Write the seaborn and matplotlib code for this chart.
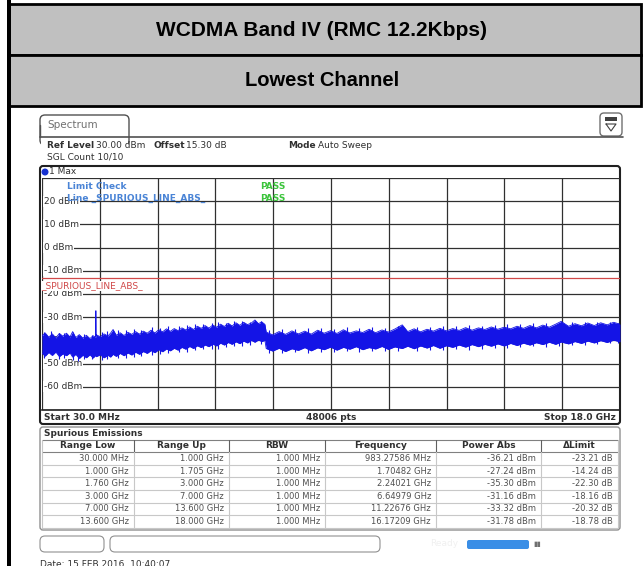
import numpy as np
import pandas as pd
import matplotlib.pyplot as plt
from matplotlib.patches import Rectangle, FancyBboxPatch
import seaborn as sns

W, H = 644, 566

# max-hold trace: upper / lower edge of the noise band
# 30 MHz .. 1.7 GHz
seg_a_freq = [0.03, 0.13, 0.24, 0.35, 0.46, 0.57, 0.68, 0.79, 0.90, 0.983, 1.08, 1.19,
              1.30, 1.41, 1.52, 1.62, 1.69, 1.700, 1.705, 1.710]
seg_a_upper = [-38, -36.8, -38.6, -37.2, -38.9, -37, -38.2, -36.9, -38.5, -36.2, -38.8,
               -37.5, -39, -37.8, -39.2, -38, -38.6, -38.6, -27.2, -38]
seg_a_lower = [-45.5, -46.8, -45.2, -46.5, -45, -47, -45.8, -46.6, -45.4, -47.2, -46,
               -47.8, -46.4, -47.5, -46.2, -47.6, -46.5, -46.5, -46.5, -47]
# 1.7 GHz .. 7 GHz
seg_b_freq = [1.72, 1.84, 1.96, 2.08, 2.16, 2.24, 2.34, 2.46, 2.58, 2.70, 2.82, 2.94,
              3.06, 3.18, 3.30, 3.42, 3.54, 3.66, 3.78, 3.90, 4.02, 4.14, 4.26, 4.38,
              4.50, 4.62, 4.74, 4.86, 4.98, 5.10, 5.22, 5.34, 5.46, 5.58, 5.70, 5.82,
              5.94, 6.06, 6.18, 6.30, 6.42, 6.54, 6.65, 6.76, 6.86, 6.96]
seg_b_upper = [-37.6, -38.4, -37.2, -38.1, -36.9, -35.3, -37.8, -36.7, -37.9, -36.5,
               -37.4, -36.2, -37.3, -36.0, -36.9, -35.6, -36.8, -35.4, -36.3, -35.0,
               -36.1, -34.9, -35.8, -34.6, -35.5, -34.2, -35.3, -33.9, -34.8, -33.6,
               -34.7, -33.4, -34.3, -33.0, -34.0, -32.6, -33.8, -32.4, -33.5, -32.2,
               -33.2, -32.5, -31.2, -32.8, -32.0, -33.1]
seg_b_lower = [-47.0, -46.2, -47.5, -46.4, -47.2, -46.0, -46.9, -45.6, -46.6, -45.4,
               -46.3, -45.1, -46.0, -44.8, -45.6, -44.4, -45.3, -44.0, -44.9, -43.7,
               -44.5, -43.4, -44.2, -43.0, -43.8, -42.6, -43.5, -42.3, -43.1, -42.0,
               -42.7, -41.6, -42.4, -41.2, -42.0, -40.9, -41.7, -40.6, -41.4, -40.3,
               -41.1, -40.0, -40.8, -39.8, -40.5, -40.0]
# 7 GHz .. 18 GHz
seg_c_freq = [7.0, 7.2, 7.4, 7.6, 7.8, 8.0, 8.2, 8.4, 8.6, 8.8, 9.0, 9.2, 9.4, 9.6, 9.8,
              10.0, 10.2, 10.4, 10.6, 10.8, 11.0, 11.23, 11.4, 11.6, 11.8, 12.0, 12.2,
              12.4, 12.6, 12.8, 13.0, 13.2, 13.4, 13.6, 13.8, 14.0, 14.2, 14.4, 14.6,
              14.8, 15.0, 15.2, 15.4, 15.6, 15.8, 16.0, 16.17, 16.4, 16.6, 16.8, 17.0,
              17.2, 17.4, 17.6, 17.8, 18.0]
seg_c_upper = [-36.4, -37.6, -36.2, -37.4, -35.9, -37.2, -36.0, -37.3, -35.6, -36.9,
               -35.8, -37.0, -35.4, -36.8, -35.9, -36.6, -35.2, -36.7, -35.5, -36.4,
               -35.1, -33.3, -36.2, -35.0, -36.3, -35.2, -36.0, -34.8, -35.9, -34.9,
               -35.7, -34.5, -35.6, -34.6, -35.3, -34.2, -35.2, -34.3, -35.0, -33.9,
               -34.8, -33.6, -34.6, -33.4, -34.3, -33.0, -31.8, -33.9, -32.8, -33.7,
               -32.5, -33.6, -32.4, -33.3, -32.2, -33.0]
seg_c_lower = [-43.5, -44.6, -43.4, -44.8, -43.6, -44.3, -43.1, -44.5, -43.2, -44.0,
               -42.9, -44.2, -43.0, -43.8, -42.7, -44.0, -43.1, -43.7, -42.6, -43.9,
               -42.8, -43.5, -42.5, -43.6, -42.4, -43.3, -42.2, -43.4, -42.3, -43.0,
               -42.0, -42.9, -41.8, -42.7, -41.7, -42.5, -41.5, -42.4, -41.3, -42.2,
               -41.2, -42.0, -41.0, -41.8, -40.8, -41.7, -40.7, -41.5, -40.5, -41.3,
               -40.3, -41.1, -40.1, -40.9, -39.9, -40.6]

# single hairline excursions of the trace (freq, top, bottom)
stroke_freq = [0.08, 0.30, 0.55, 0.72, 1.00, 1.15, 1.35, 1.58,
               1.90, 2.05, 2.40, 2.65, 2.90, 3.10, 3.45, 3.70, 3.95, 4.30, 4.55, 4.80,
               5.05, 5.30, 5.50, 5.75, 6.00, 6.25, 6.50, 6.85,
               7.10, 7.50, 7.90, 8.30, 8.70, 9.10, 9.50, 9.90, 10.30, 10.70, 11.10,
               11.70, 12.10, 12.50, 12.90, 13.30, 13.70, 14.10, 14.50, 14.90, 15.30,
               15.70, 16.10, 16.50, 16.90, 17.30, 17.70, 17.95]
stroke_top = [-36.5, -35.8, -36.8, -37.0, -36.8, -37.6, -37.2, -37.8,
              -36.5, -35.8, -35.5, -35.4, -35.1, -35.6, -34.3, -34.5, -33.9, -33.8,
              -33.5, -32.8, -33.0, -32.6, -32.0, -32.3, -31.6, -31.8, -31.9, -31.5,
              -35.4, -35.0, -35.3, -34.8, -34.5, -35.0, -34.3, -34.8, -34.2, -34.6,
              -34.0, -34.4, -34.1, -33.8, -34.0, -33.4, -33.6, -33.2, -33.0, -32.8,
              -32.6, -32.3, -32.5, -32.2, -32.1, -31.9, -32.0, -32.3]
stroke_bottom = [-47.5, -46.0, -48.0, -47.8, -48.5, -48.9, -48.2, -47.9,
                 -48.5, -48.0, -47.4, -47.5, -47.0, -46.8, -46.2, -45.8, -45.3, -44.8,
                 -45.1, -44.3, -43.9, -43.5, -43.6, -42.8, -42.5, -42.6, -41.8, -41.7,
                 -45.3, -45.6, -45.0, -45.5, -44.8, -45.0, -44.7, -45.2, -44.6, -44.5,
                 -44.4, -44.6, -44.2, -44.3, -43.8, -44.0, -43.5, -43.4, -43.2, -43.0,
                 -42.6, -42.8, -42.3, -42.1, -41.8, -41.6, -41.2, -41.0]

limit_dbm = -13.0
level_labels = [20, 10, 0, -10, -20, -30, -40, -50, -60]

# spurious emissions table
col_heads = ["Range Low", "Range Up", "RBW", "Frequency", "Power Abs", "\u0394Limit"]
range_low = ["30.000 MHz", "1.000 GHz", "1.760 GHz", "3.000 GHz", "7.000 GHz", "13.600 GHz"]
range_up = ["1.000 GHz", "1.705 GHz", "3.000 GHz", "7.000 GHz", "13.600 GHz", "18.000 GHz"]
rbw = ["1.000 MHz"] * 6
peak_freq = ["983.27586 MHz", "1.70482 GHz", "2.24021 GHz", "6.64979 GHz",
             "11.22676 GHz", "16.17209 GHz"]
power_abs = [-36.21, -27.24, -35.30, -31.16, -33.32, -31.78]
delta_limit = [-23.21, -14.24, -22.30, -18.16, -20.32, -18.78]

sns.set_style("white")
plt.rcParams["font.family"] = ["DejaVu Sans"]

fig = plt.figure(figsize=(W / 100, H / 100), dpi=100)
bg = fig.add_axes([0, 0, 1, 1])
bg.set_xlim(0, W)
bg.set_ylim(H, 0)
bg.axis("off")

# title block
bg.add_patch(Rectangle((9, 4), 632, 51, fc="#C0C0C0", ec="black", lw=2))
bg.text(322, 30, "WCDMA Band IV (RMC 12.2Kbps)", ha="center", va="center",
        fontsize=15, fontweight="bold", family="Liberation Sans", color="black")
bg.add_patch(Rectangle((9, 55), 632, 51, fc="#C0C0C0", ec="black", lw=2))
bg.text(322, 81, "Lowest Channel", ha="center", va="center", fontsize=14.5,
        fontweight="bold", family="Liberation Sans", color="black")
bg.add_patch(Rectangle((7, 0), 4, H, fc="black", ec="none", zorder=5))

# instrument header
bg.add_patch(FancyBboxPatch((40, 115), 89, 30, boxstyle="round,pad=0,rounding_size=5",
                            fc="white", ec="#505050", lw=1))
bg.add_patch(Rectangle((41, 136), 87, 10, fc="white", ec="none"))
bg.plot([40, 40], [125, 137], color="#505050", lw=1)
bg.plot([40, 623], [137, 137], color="#505050", lw=1.2)
bg.text(47, 125, "Spectrum", fontsize=7.5, color="#707070", va="center")
bg.add_patch(FancyBboxPatch((600, 113), 22, 23, boxstyle="round,pad=0,rounding_size=4",
                            fc="white", ec="#707070", lw=1))
bg.add_patch(Rectangle((605, 117), 12, 4, fc="#404040", ec="none"))
bg.plot([606, 611, 616, 606], [124, 131, 124, 124], color="#404040", lw=0.8)

hdr = dict(fontsize=6.5, color="#303030", va="center")
bg.text(47, 146, "Ref Level", fontweight="bold", **hdr)
bg.text(96, 146, "30.00 dBm", **hdr)
bg.text(154, 146, "Offset", fontweight="bold", **hdr)
bg.text(186, 146, "15.30 dB", **hdr)
bg.text(288, 146, "Mode", fontweight="bold", **hdr)
bg.text(318, 146, "Auto Sweep", **hdr)
bg.text(47, 157, "SGL Count 10/10", **hdr)

# diagram frame
bg.add_patch(FancyBboxPatch((40, 166), 580, 258, boxstyle="round,pad=0,rounding_size=3",
                            fc="white", ec="#202020", lw=1.5))
bg.add_patch(plt.Circle((45, 172), 2.8, color="#1530D0"))
bg.text(49, 172, "1 Max", **hdr)
bg.text(44, 418, "Start 30.0 MHz", fontweight="bold", **hdr)
bg.text(331, 418, "48006 pts", fontweight="bold", ha="center", fontsize=6.5,
        color="#303030", va="center")
bg.text(616, 418, "Stop 18.0 GHz", fontweight="bold", ha="right", fontsize=6.5,
        color="#303030", va="center")

# spurious table
bg.add_patch(FancyBboxPatch((40, 427), 580, 103, boxstyle="round,pad=0,rounding_size=3",
                            fc="white", ec="#909090", lw=1))
bg.text(44, 433, "Spurious Emissions", fontweight="bold", **hdr)
seps = [42, 134, 229, 325, 436, 541, 618]
bg.plot([42, 618], [440, 440], color="#808080", lw=0.8)
bg.plot([42, 618], [452, 452], color="#808080", lw=0.8)
for i, head in enumerate(col_heads):
    bg.text((seps[i] + seps[i + 1]) / 2, 446, head, ha="center", fontweight="bold",
            fontsize=6.5, color="#303030", va="center")
for xs in seps[1:-1]:
    bg.plot([xs, xs], [440, 452], color="#606060", lw=0.8)
    bg.plot([xs, xs], [452, 528], color="#c8c8c8", lw=0.8)
bg.plot([42, 42], [440, 528], color="#c8c8c8", lw=0.8)
bg.plot([618, 618], [440, 528], color="#c8c8c8", lw=0.8)
rows = zip(range_low, range_up, rbw, peak_freq, power_abs, delta_limit)
for r, (lo, up, bw, fq, pw, dl) in enumerate(rows):
    yc = 458.5 + r * 12.6
    cells = [lo, up, bw, fq, f"{pw:.2f} dBm", f"{dl:.2f} dB"]
    for i, c in enumerate(cells):
        bg.text(seps[i + 1] - 5, yc, c, ha="right", fontsize=6, color="#505050", va="center")
    bg.plot([42, 618], [yc + 6.3, yc + 6.3], color="#c8c8c8", lw=0.8)

# status bar
bg.add_patch(FancyBboxPatch((40, 536), 64, 16, boxstyle="round,pad=0,rounding_size=5",
                            fc="white", ec="#909090", lw=0.8))
bg.add_patch(FancyBboxPatch((110, 536), 270, 16, boxstyle="round,pad=0,rounding_size=5",
                            fc="white", ec="#909090", lw=0.8))
bg.text(430, 544, "Ready", color="#f0f0f0", fontsize=6.5, va="center")
bg.add_patch(FancyBboxPatch((467, 540), 62, 9, boxstyle="round,pad=0,rounding_size=2",
                            fc="#3A8EE6", ec="none"))
bg.text(533, 544, "\u25ae\u25ae", color="#707070", fontsize=5, va="center")
bg.text(40, 560, "Date: 15 FEB 2016  10:40:07", fontsize=6.5, color="#303030", va="top")

# spectrum diagram
ax = fig.add_axes([42 / W, 1 - 410 / H, 578 / W, 232 / H])
ax.set_facecolor("none")
ax.set_xlim(0.03, 18.0)
ax.set_ylim(-70, 30)
ax.set_xticks(np.linspace(0.03, 18.0, 11))
ax.set_yticks(np.arange(-70, 31, 10))
ax.tick_params(length=0, labelbottom=False, labelleft=False)
ax.set_axisbelow(True)
ax.grid(True, color="#303030", lw=0.9)
for s in ["left", "top", "right"]:
    ax.spines[s].set_visible(False)
ax.spines["bottom"].set_color("#202020")
ax.spines["bottom"].set_linewidth(1.2)

for lv in level_labels:
    ax.text(0.09, lv, f"{lv} dBm", fontsize=6.5, color="#303030", va="center",
            zorder=2, bbox=dict(fc="white", ec="none", pad=0.8))

ax.axhline(limit_dbm, color="#D04848", lw=0.9, zorder=2.5)
ax.text(0.0, -14.5, "_SPURIOUS_LINE_ABS_", fontsize=6.5, color="#D04848",
        va="top", zorder=2.6, bbox=dict(fc="white", ec="none", pad=0.3))

blue_txt = dict(fontsize=6.5, color="#4A84D6", fontweight="bold", va="center", zorder=4)
green_txt = dict(fontsize=6.5, color="#3CC43C", fontweight="bold", va="center", zorder=4)
ax.text(0.8, 26.3, "Limit Check", **blue_txt)
ax.text(0.8, 21.0, "Line _SPURIOUS_LINE_ABS_", **blue_txt)
ax.text(6.8, 26.3, "PASS", **green_txt)
ax.text(6.8, 21.0, "PASS", **green_txt)

trace_blue = "#1414E6"
trace = pd.DataFrame({
    "freq": seg_a_freq + seg_b_freq + seg_c_freq,
    "upper": seg_a_upper + seg_b_upper + seg_c_upper,
    "lower": seg_a_lower + seg_b_lower + seg_c_lower,
})
ax.fill_between(trace["freq"], trace["lower"], trace["upper"], color=trace_blue,
                lw=0, zorder=3)
sns.lineplot(data=trace, x="freq", y="upper", ax=ax, color=trace_blue, lw=0.6, zorder=3)
sns.lineplot(data=trace, x="freq", y="lower", ax=ax, color=trace_blue, lw=0.6, zorder=3)
ax.vlines(stroke_freq, stroke_bottom, stroke_top, color=trace_blue, lw=0.8, zorder=3)
ax.set_xlabel("")
ax.set_ylabel("")

fig.savefig("out.png", dpi=100)
